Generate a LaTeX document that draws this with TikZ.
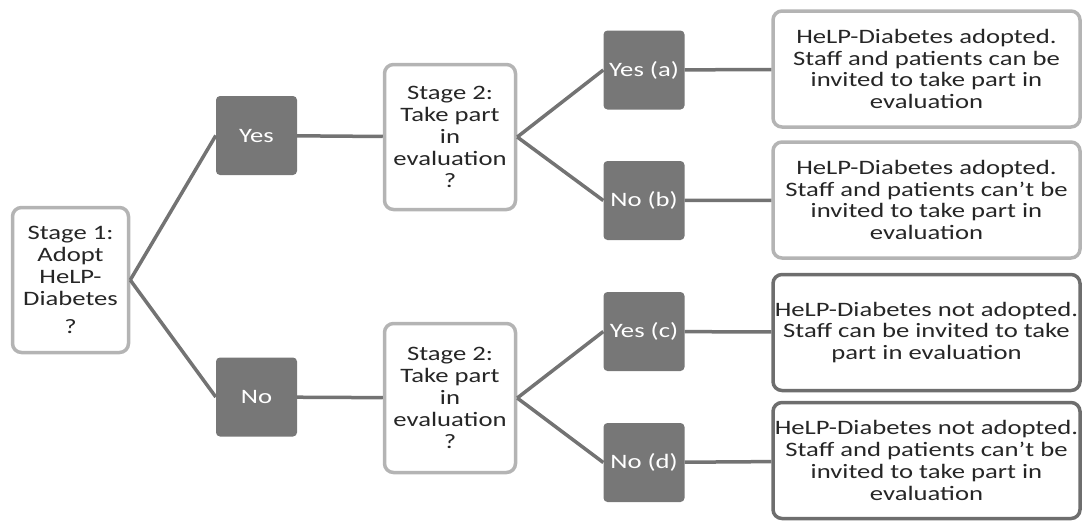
\documentclass[tikz,border=0pt]{standalone}
\usepackage{fontspec}
\setmainfont{Carlito}[FakeStretch=1.3]
\definecolor{darkfill}{HTML}{777777}
\definecolor{linegray}{HTML}{737373}
\definecolor{lightedge}{HTML}{B4B4B4}
\definecolor{darkedge}{HTML}{6E6E6E}
\definecolor{textgray}{HTML}{262626}
\tikzset{
  question/.style={draw=lightedge, line width=3.5pt, rounded corners=9pt, fill=white,
    align=center, text=textgray, inner sep=0pt, font=\fontsize{20.5}{21.8}\selectfont},
  answer/.style={fill=darkfill, rounded corners=4pt, text=white, inner sep=0pt,
    minimum width=81pt, minimum height=79pt, font=\fontsize{20.5}{21.8}\selectfont},
  outcome/.style={question, minimum width=307pt, minimum height=116pt},
  link/.style={draw=linegray, line width=3.5pt}
}
\begin{document}
\begin{tikzpicture}[x=1pt, y=-1pt]
  \path[use as bounding box] (0,0) rectangle (1083,520);
  % stage 1
  \node[question, minimum width=116pt, minimum height=145pt] (stageone) at (70.5,280)
    {Stage 1:\\Adopt\\HeLP-\\Diabetes\\[6pt]?};
  % first answers
  \node[answer] (yes) at (256.5,135.5) {Yes};
  \node[answer] (no)  at (256.5,397) {No};
  % stage 2
  \node[question, minimum width=131pt, minimum height=145pt] (stagetwoA) at (450,137)
    {Stage 2:\\Take part\\in\\evaluation\\?};
  \node[question, minimum width=131pt, minimum height=149pt] (stagetwoB) at (450,398)
    {Stage 2:\\Take part\\in\\evaluation\\?};
  % second answers
  \node[answer] (yesa) at (644,70)    {Yes (a)};
  \node[answer] (nob)  at (644,200.5) {No (b)};
  \node[answer] (yesc) at (644,331.5) {Yes (c)};
  \node[answer] (nod)  at (644,462.5) {No (d)};
  % outcomes
  \node[outcome] (outa) at (926.5,69)
    {HeLP-Diabetes adopted.\\Staff and patients can be\\invited to take part in\\evaluation};
  \node[outcome] (outb) at (926.5,200)
    {HeLP-Diabetes adopted.\\Staff and patients can’t be\\invited to take part in\\evaluation};
  \node[outcome, draw=darkedge] (outc) at (926.5,332.5)
    {HeLP-Diabetes not adopted.\\Staff can be invited to take\\part in evaluation};
  \node[outcome, draw=darkedge] (outd) at (926.5,460.5)
    {HeLP-Diabetes not adopted.\\Staff and patients can’t be\\invited to take part in\\evaluation};
  % connectors
  \draw[link] (stageone.east) -- (yes.west);
  \draw[link] (stageone.east) -- (no.west);
  \draw[link] (yes) -- (stagetwoA);
  \draw[link] (no) -- (stagetwoB);
  \draw[link] (stagetwoA.east) -- (yesa.west);
  \draw[link] (stagetwoA.east) -- (nob.west);
  \draw[link] (stagetwoB.east) -- (yesc.west);
  \draw[link] (stagetwoB.east) -- (nod.west);
  \draw[link] (yesa) -- (outa);
  \draw[link] (nob) -- (outb);
  \draw[link] (yesc) -- (outc);
  \draw[link] (nod) -- (outd);
\end{tikzpicture}
\end{document}
